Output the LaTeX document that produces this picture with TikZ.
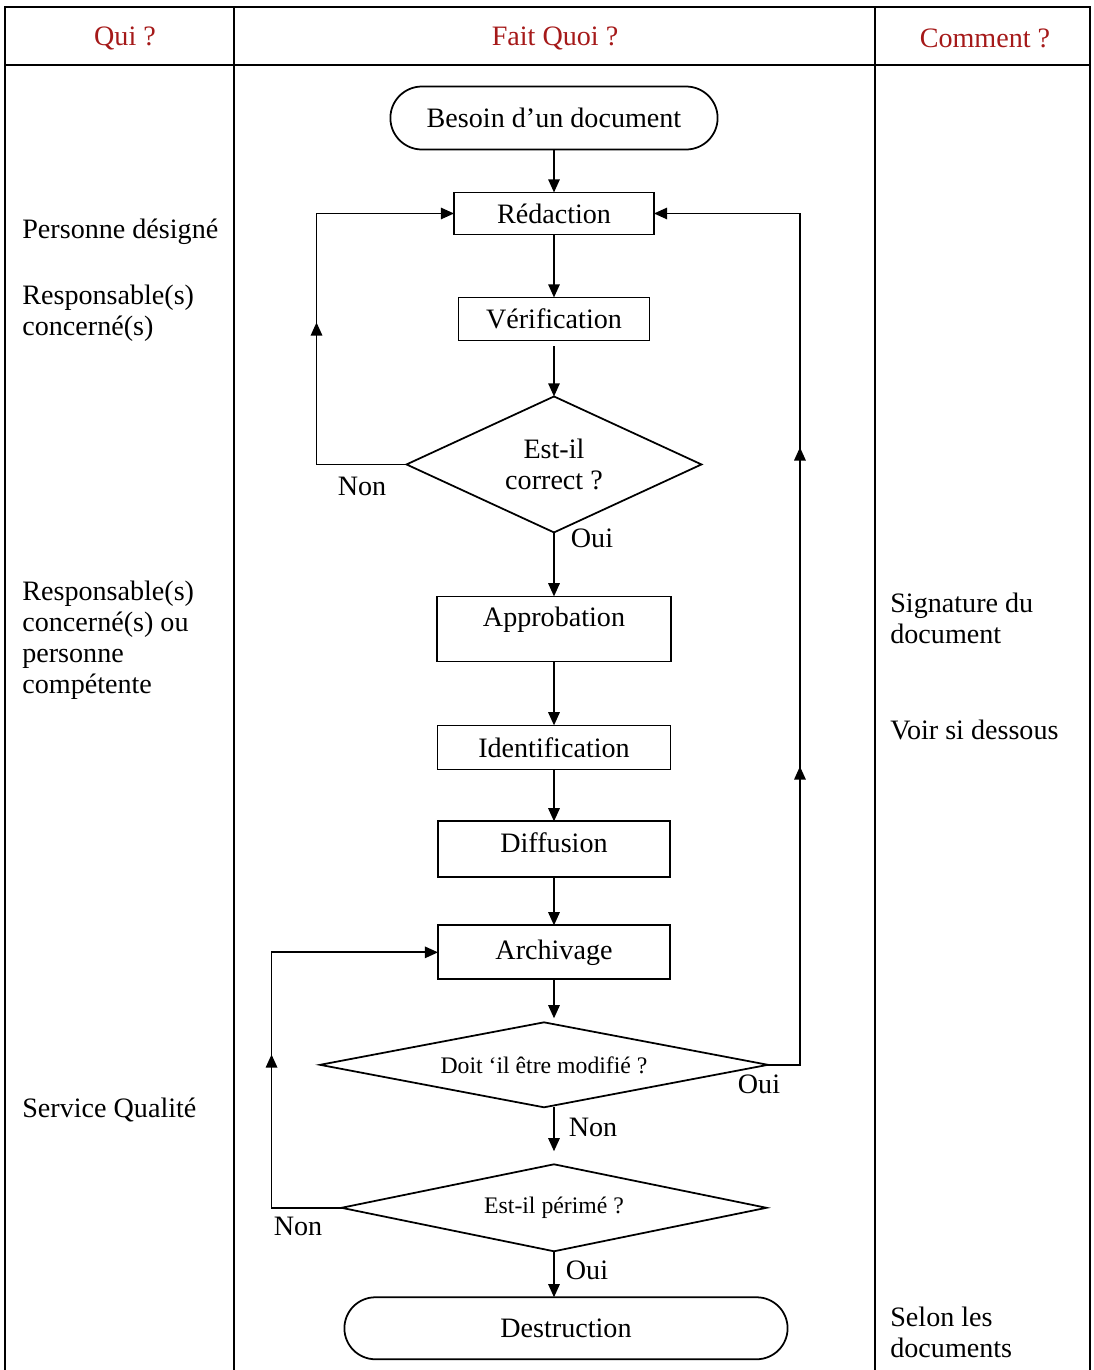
\documentclass[tikz,border=0pt]{standalone}
\usepackage{fontspec}
\setmainfont{Liberation Serif}
\usepackage{tikz}
\usetikzlibrary{arrows.meta, positioning, shapes.geometric, shapes.misc, decorations.markings}
\definecolor{headred}{RGB}{165,25,25}

\begin{document}
\begin{tikzpicture}[
    x=0.02cm, y=-0.02cm,
    every node/.style={font=\fontsize{16}{17.6}\selectfont},
    box/.style={draw, line width=1pt, inner sep=2pt, outer sep=0pt},
    term/.style={draw, line width=1pt, rounded rectangle, outer sep=0pt},
    choice/.style={draw, line width=1pt, diamond, inner sep=0pt, outer sep=0pt, align=center},
    smalltxt/.style={font=\fontsize{13.5}{15}\selectfont},
    arrow/.style={-{Triangle[length=7.5pt, width=6.5pt]}, line width=1pt},
    midup/.style={postaction={decorate, decoration={markings,
        mark=at position #1 with {\arrow{Triangle[length=7.5pt, width=6.5pt]}}}}},
    lbl/.style={inner sep=0pt},
    sidetxt/.style={anchor=west, align=left, inner sep=0pt},
    headtxt/.style={text=headred},
    tbl/.style={line width=1.2pt}
]

\useasboundingbox (0,0) rectangle (1093,1370);

% Table
\draw[tbl] (5,1370) -- (5,7) -- (1090,7) -- (1090,1370);
\draw[tbl] (5,65) -- (1090,65);
\draw[tbl] (234,7) -- (234,1370);
\draw[tbl] (875,7) -- (875,1370);

\node[headtxt] (qui) at (125,38) {Qui ?};
\node[headtxt] (quoi) at (555,38) {Fait Quoi ?};
\node[headtxt] (comment) at (985,38) {Comment ?};

% Qui
\node[sidetxt] (designe) at (22,232) {Personne désigné};
\node[sidetxt] (resp) at (22,313) {Responsable(s)\\concerné(s)};
\node[sidetxt] (respou) at (22,640) {Responsable(s)\\concerné(s) ou\\personne\\compétente};
\node[sidetxt] (qualite) at (22,1110) {Service Qualité};

% Comment
\node[sidetxt] (signature) at (890,618) {Signature du\\document};
\node[sidetxt] (voir) at (890,730) {Voir si dessous};
\node[sidetxt] (selon) at (890,1332) {Selon les\\documents};

% Nodes
\node[term, minimum width=6.78cm, minimum height=1.26cm] (besoin) at (554,118) {Besoin d’un document};
\node[box, minimum width=4cm, minimum height=0.84cm, below=0.86cm of besoin] (redac) {Rédaction};
\node[box, minimum width=3.82cm, minimum height=0.86cm, below=1.26cm of redac] (verif) {Vérification};
\node[choice, shape aspect=2.17, minimum width=5.9cm, minimum height=2.72cm, below=1.12cm of verif] (correct) {Est-il\\correct ?};
\node[box, minimum width=4.68cm, minimum height=1.3cm, text depth=0.48cm, below=1.28cm of correct] (approb) {Approbation};
\node[box, minimum width=4.66cm, minimum height=0.88cm, below=1.28cm of approb] (ident) {Identification};
\node[box, minimum width=4.64cm, minimum height=1.12cm, text depth=0.28cm, below=1.04cm of ident] (diffus) {Diffusion};
\node[box, minimum width=4.64cm, minimum height=1.08cm, below=0.96cm of diffus] (archiv) {Archivage};
\node[choice, smalltxt, shape aspect=5.27, minimum width=8.96cm, minimum height=1.7cm, below=0.86cm of archiv, xshift=-0.2cm] (modif) {Doit ‘il être modifié ?};
\node[choice, smalltxt, shape aspect=4.9, minimum width=8.5cm, minimum height=1.74cm, below=1.14cm of modif, xshift=0.2cm] (perime) {Est-il périmé ?};
\node[term, minimum width=9.1cm, minimum height=1.24cm, below=0.92cm of perime, xshift=0.24cm] (destr) {Destruction};

% Labels
\node[lbl] (non1) at (362,486) {Non};
\node[lbl] (oui1) at (592,538) {Oui};
\node[lbl] (oui2) at (759,1084) {Oui};
\node[lbl] (non2) at (593,1127) {Non};
\node[lbl] (non3) at (298,1226) {Non};
\node[lbl] (oui3) at (587,1270) {Oui};

% Edges
\draw[arrow] (besoin) -- (redac);
\draw[arrow] (redac) -- (verif);
\draw[arrow, shorten <=0.12cm] (verif) -- (correct);
\draw[arrow] (correct) -- (approb);
\draw[arrow] (approb) -- (ident);
\draw[arrow] (ident) -- (diffus);
\draw[arrow] (diffus) -- (archiv);
\draw[arrow, shorten >=0.08cm] (archiv.south) -- (archiv.south |- modif.north);
\draw[arrow, shorten >=0.26cm] (archiv.south |- modif.south) -- (perime.north);
\draw[arrow] (perime.south) -- (perime.south |- destr.north);

% Loops
\draw[arrow, midup=0.485] (correct.west) -- ++(-90,0) |- (redac.west);
\draw[arrow, midup=0.321, midup=0.631] (modif.east) -- ++(32,0) |- (redac.east);
\draw[arrow, midup=0.454] (perime.west) -- ++(-70,0) |- (archiv.west);

\end{tikzpicture}
\end{document}
